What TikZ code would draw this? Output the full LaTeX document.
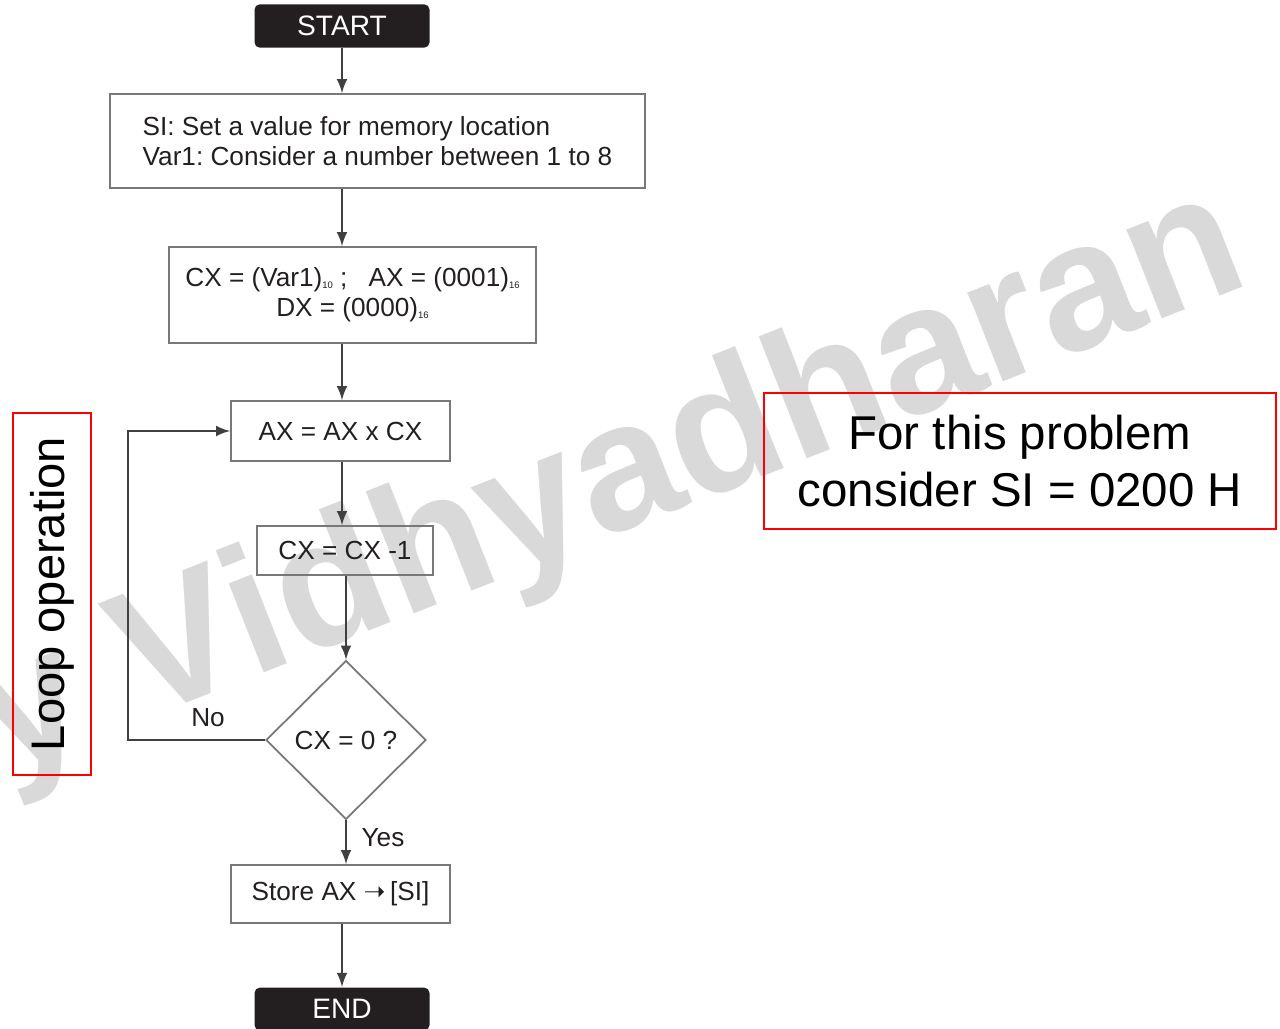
\documentclass[tikz,border=0pt]{standalone}
\usepackage{fontspec}
\setmainfont{Liberation Sans}
\newfontfamily\arrowfont{DejaVu Sans}
\usetikzlibrary{shapes.geometric}
\definecolor{boxgray}{RGB}{120,120,120}
\definecolor{linegray}{RGB}{64,64,64}
\definecolor{inkblk}{RGB}{35,31,32}
\definecolor{wmgray}{RGB}{217,217,217}
\newcommand{\subsc}[1]{\raisebox{-0.6pt}{\fontsize{2.7}{3}\selectfont #1}}
\frenchspacing

\begin{document}
\begin{tikzpicture}
\tikzset{proc/.style = {rectangle, draw=boxgray, line width=.5pt, text=inkblk, inner sep=0pt, font=\fontsize{7.45}{8.5}\selectfont}}
\tikzset{term/.style = {rectangle, rounded corners=1.5pt, fill=inkblk, text=white, minimum width=1.75cm, minimum height=.38cm, font=\fontsize{8}{9}\selectfont}}
\tikzset{edge/.style = {->,> = latex, draw=linegray, line width=.4pt}}
\tikzset{note/.style = {rectangle, draw=red, line width=.7pt, align=center, font=\fontsize{13.5}{16.2}\selectfont}}

\useasboundingbox (0,0) rectangle (12.8,-10.28);

% watermark
\begin{scope}
\clip (0,0) rectangle (12.8,-10.28);
\node[anchor=base west, rotate=21.5, text=wmgray, inner sep=0pt, font=\bfseries\fontsize{51.5}{60}\selectfont] (mark) at (0.02,-7.76) {y Vidhyadharan};
\end{scope}

\node[term] (start) at (3.42,-0.26) {START};
\node[proc, minimum width=5.35cm, minimum height=.94cm, align=left] (setup) at (3.775,-1.41)
   {SI: Set a value for memory location\\Var1: Consider a number between 1 to 8};
\node[proc, minimum width=3.67cm, minimum height=.96cm, align=center] (init) at (3.525,-2.95)
   {CX = (Var1)\subsc{10}\ ;\hspace{6pt}AX = (0001)\subsc{16}\\DX = (0000)\subsc{16}};
\node[proc, minimum width=2.19cm, minimum height=.60cm] (mult) at (3.405,-4.31) {AX = AX x CX};
\node[proc, minimum width=1.76cm, minimum height=.49cm] (dec) at (3.45,-5.505) {CX = CX -1};
\node[proc, diamond, aspect=1, minimum width=1.6cm, minimum height=1.59cm] (test) at (3.46,-7.40) {CX = 0 ?};
\node[proc, minimum width=2.19cm, minimum height=.58cm] (store) at (3.405,-8.94) {Store AX {\arrowfont ➝}\,[SI]};
\node[term] (end) at (3.42,-10.09) {END};

\foreach \a/\b in {start/setup, setup/init, init/mult, mult/dec, store/end}
   {\draw[edge] (\a.south -| start) -- (\b.north -| start);}
\draw[edge] (dec.south -| test) -- (test.north);
\draw[edge] (test.south) -- (store.north -| test);

\coordinate (back) at (1.28,-7.40);
\draw[edge] (test.west) -- (back) |- (mult.west);
\node[text=inkblk, font=\fontsize{7.45}{8.5}\selectfont] (no) at (2.08,-7.18) {No};
\node[text=inkblk, font=\fontsize{7.45}{8.5}\selectfont] (yes) at (3.83,-8.38) {Yes};

\node[note, minimum width=.78cm, minimum height=3.62cm, inner sep=0pt] (loop) at (0.52,-5.94) {};
\node[rotate=90, font=\fontsize{13.4}{16}\selectfont] (looptxt) at (loop) {Loop operation};
\node[note, minimum width=5.12cm, minimum height=1.36cm, inner sep=0pt] (hint) at (10.20,-4.61)
   {For this problem\\consider SI = 0200 H};

\end{tikzpicture}
\end{document}
